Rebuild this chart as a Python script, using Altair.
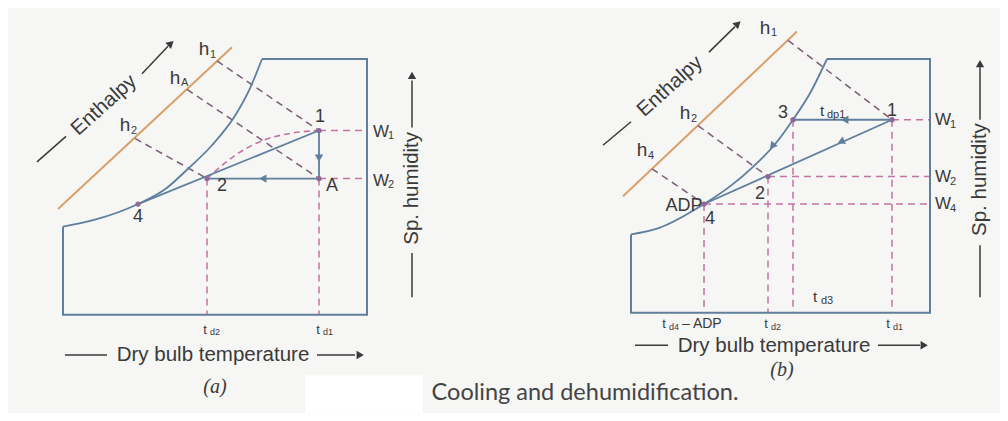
import altair as alt
import pandas as pd

# ---------------- coordinate frame (diagram units = page pixels) -------------
X0, X1, Y0, Y1 = 8, 1000, 8, 413

BLUE = "#5f7f9c"
PINK = "#c274a3"
DARK = "#7a5c74"
ORANGE = "#d9a06a"
INK = "#3a3a3a"

# ---------------- panel (a) ----------------
box_a_x = [63, 63, 367, 367, 262]
box_a_y = [231, 321, 321, 60, 60]
sat_a_x = [63, 95, 138, 165, 188, 212, 235, 250, 262]
sat_a_y = [231, 224, 208, 193, 172, 148, 118, 90, 60]
arc_a_x = [207, 225, 245, 263, 290, 319]
arc_a_y = [182, 166, 152, 143, 136, 133]
state_a_name = ["1", "A", "2", "4"]
state_a_x = [319, 319, 207, 138]
state_a_y = [133, 182, 182, 208]

# ---------------- panel (b) ----------------
box_b_x = [631, 631, 930, 930, 827]
box_b_y = [239, 319, 319, 60, 60]
sat_b_x = [631, 660, 704, 730, 753, 775, 793, 810, 827]
sat_b_y = [239, 232, 208, 190, 170, 147, 122, 95, 60]
state_b_name = ["1", "3", "2", "4"]
state_b_x = [892, 793, 768, 704]
state_b_y = [122, 122, 180, 208]

# straight segments: x1, y1, x2, y2
solid_x1 = [319, 319, 319, 892, 892]
solid_y1 = [133, 182, 133, 122, 122]
solid_x2 = [319, 207, 138, 793, 704]
solid_y2 = [182, 182, 208, 122, 208]

orange_x1 = [58, 623]
orange_y1 = [213, 200]
orange_x2 = [232, 797]
orange_y2 = [48, 32]

hdash_x1 = [217, 187, 135, 788, 698, 652]
hdash_y1 = [62, 91, 141, 41, 128, 172]
hdash_x2 = [319, 319, 207, 892, 768, 704]
hdash_y2 = [133, 182, 182, 122, 180, 208]

pdash_x1 = [319, 319, 207, 319, 892, 768, 704, 704, 768, 793, 892]
pdash_y1 = [133, 182, 182, 182, 122, 180, 208, 208, 180, 122, 122]
pdash_x2 = [367, 367, 207, 319, 930, 930, 930, 704, 768, 793, 892]
pdash_y2 = [133, 182, 321, 321, 122, 180, 208, 319, 319, 319, 319]

# axis-title arrow shafts
shaft_x1 = [65, 317, 412, 412, 37, 142, 635, 878, 980, 980, 603, 709]
shaft_y1 = [362, 362, 303, 130, 165, 75, 352, 352, 303, 122, 148, 53]
shaft_x2 = [107, 355, 412, 412, 66, 168, 668, 920, 980, 980, 631, 735]
shaft_y2 = [362, 362, 258, 82, 139, 47, 352, 352, 250, 68, 124, 27]

# arrow heads
flow_head_x = [319, 264, 846, 842, 773]
flow_head_y = [160, 182, 122, 144, 148]
flow_head_angle = [180, 270, 270, 245, 220]
axis_head_x = [359, 412, 170, 923, 980, 737]
axis_head_y = [362, 78, 45, 352, 66, 25]
axis_head_angle = [90, 0, 48, 90, 0, 47]

# ---------------- labels ----------------
lab_text = ["1", "2", "A", "4", "h", "h", "h", "W", "W", "t", "t",
            "1", "3", "2", "ADP", "4", "t", "t", "h", "h", "h", "W", "W", "W",
            "t", "t", "t"]
lab_x = [320, 222, 332, 138, 204, 175, 125, 381, 381, 205, 318,
         892, 783, 760, 684, 710, 822, 815, 765, 685, 642, 943, 943, 943,
         664, 766, 888]
lab_y = [119, 190, 190, 221, 50, 79, 127, 134, 184, 336, 336,
         113, 115, 198, 210, 223, 113, 303, 28, 115, 153, 122, 180, 208,
         330, 330, 330]
lab_size = [18, 18, 18, 18, 19, 19, 19, 17, 17, 13, 13,
            18, 18, 18, 18, 18, 15, 15, 19, 19, 19, 17, 17, 17,
            13, 13, 13]

sub_text = ["1", "A", "2", "1", "2", "d2", "d1",
            "dp1", "d3", "1", "2", "4", "1", "2", "4", "d4", "– ADP", "d2", "d1"]
sub_x = [210, 181, 131, 388, 388, 210, 323,
         827, 821, 771, 691, 648, 950, 950, 950, 669, 682, 771, 893]
sub_y = [56, 85, 133, 139, 189, 339, 339,
         117, 307, 34, 121, 159, 127, 185, 213, 333, 330, 333, 333]
sub_size = [11, 11, 11, 11, 11, 9, 9,
            11, 11, 11, 11, 11, 11, 11, 11, 9, 14, 9, 9]

title_text = ["Dry bulb temperature", "Enthalpy", "Sp. humidity",
              "Dry bulb temperature", "Enthalpy", "Sp. humidity"]
title_x = [213, 104, 412, 774, 670, 980]
title_y = [362, 107, 192, 353, 88, 183]
title_angle = [0, 318, 270, 0, 318, 270]

panel_text = ["(a)", "(b)"]
panel_x = [215, 782]
panel_y = [395, 377]

caption_text = ["Cooling and dehumidification."]
caption_x = [585]
caption_y = [401]

patch_x1, patch_x2, patch_y1, patch_y2 = [305], [423], [383], [421]

# ---------------- helpers ----------------
xs = alt.Scale(domain=[X0, X1], zero=False, nice=False)
ys = alt.Scale(domain=[Y0, Y1], zero=False, nice=False, reverse=True)


def X(f):
    return alt.X(f, type="quantitative", scale=xs, axis=None)


def Y(f):
    return alt.Y(f, type="quantitative", scale=ys, axis=None)


def poly(groups):
    rows = []
    for g, (xx, yy) in enumerate(groups):
        for i, (a, b) in enumerate(zip(xx, yy)):
            rows.append({"x": a, "y": b, "g": g, "o": i})
    return pd.DataFrame(rows)


def segs(x1, y1, x2, y2):
    return pd.DataFrame({"x": x1, "y": y1, "x2": x2, "y2": y2})


def rule_layer(df, color, width, dash=None):
    kw = dict(color=color, strokeWidth=width)
    if dash:
        kw["strokeDash"] = dash
    return alt.Chart(df).mark_rule(**kw).encode(
        x=X("x"), y=Y("y"), x2="x2:Q", y2="y2:Q")


patch = alt.Chart(pd.DataFrame({"x": patch_x1, "x2": patch_x2, "y": patch_y1, "y2": patch_y2})).mark_rect(
    color="#ffffff").encode(x=X("x"), x2="x2:Q", y=Y("y"), y2="y2:Q")

boxes = alt.Chart(poly([(box_a_x, box_a_y), (box_b_x, box_b_y)])).mark_line(
    color=BLUE, strokeWidth=2).encode(x=X("x"), y=Y("y"), detail="g:N", order="o:Q")

sat = alt.Chart(poly([(sat_a_x, sat_a_y), (sat_b_x, sat_b_y)])).mark_line(
    color=BLUE, strokeWidth=1.8, interpolate="monotone").encode(
    x=X("x"), y=Y("y"), detail="g:N", order="o:Q")

arc = alt.Chart(poly([(arc_a_x, arc_a_y)])).mark_line(
    color=PINK, strokeWidth=1.6, strokeDash=[6, 4], interpolate="monotone").encode(
    x=X("x"), y=Y("y"), detail="g:N", order="o:Q")

orange = rule_layer(segs(orange_x1, orange_y1, orange_x2, orange_y2), ORANGE, 2)
hdash = rule_layer(segs(hdash_x1, hdash_y1, hdash_x2, hdash_y2), DARK, 1.5, [7, 5])
pdash = rule_layer(segs(pdash_x1, pdash_y1, pdash_x2, pdash_y2), PINK, 1.5, [7, 5])
solid = rule_layer(segs(solid_x1, solid_y1, solid_x2, solid_y2), BLUE, 1.8)
shafts = rule_layer(segs(shaft_x1, shaft_y1, shaft_x2, shaft_y2), INK, 1.5)

flow_heads = alt.Chart(pd.DataFrame({"x": flow_head_x, "y": flow_head_y, "a": flow_head_angle})).mark_point(
    shape="triangle", filled=True, color=BLUE, opacity=1, size=70).encode(
    x=X("x"), y=Y("y"), angle=alt.Angle("a:Q", scale=None))

axis_heads = alt.Chart(pd.DataFrame({"x": axis_head_x, "y": axis_head_y, "a": axis_head_angle})).mark_point(
    shape="triangle", filled=True, color=INK, opacity=1, size=70).encode(
    x=X("x"), y=Y("y"), angle=alt.Angle("a:Q", scale=None))

dots = alt.Chart(pd.DataFrame({"x": state_a_x + state_b_x, "y": state_a_y + state_b_y,
                               "n": state_a_name + state_b_name})).mark_point(
    shape="circle", filled=True, color="#8d6a9a", opacity=1, size=28).encode(x=X("x"), y=Y("y"))

labels = alt.Chart(pd.DataFrame({"x": lab_x, "y": lab_y, "t": lab_text, "s": lab_size})).mark_text(
    font="Liberation Sans", color=INK, align="center", baseline="middle").encode(
    x=X("x"), y=Y("y"), text="t:N", size=alt.Size("s:Q", scale=None))

subs = alt.Chart(pd.DataFrame({"x": sub_x, "y": sub_y, "t": sub_text, "s": sub_size})).mark_text(
    font="Liberation Sans", color=INK, align="left", baseline="middle").encode(
    x=X("x"), y=Y("y"), text="t:N", size=alt.Size("s:Q", scale=None))

titles = alt.Chart(pd.DataFrame({"x": title_x, "y": title_y, "t": title_text, "a": title_angle})).mark_text(
    font="Liberation Sans", color=INK, fontSize=20.5, align="center", baseline="middle").encode(
    x=X("x"), y=Y("y"), text="t:N", angle=alt.Angle("a:Q", scale=None))

panels = alt.Chart(pd.DataFrame({"x": panel_x, "y": panel_y, "t": panel_text})).mark_text(
    font="Liberation Serif", fontStyle="italic", color=INK, fontSize=20, align="center",
    baseline="middle").encode(x=X("x"), y=Y("y"), text="t:N")

caption = alt.Chart(pd.DataFrame({"x": caption_x, "y": caption_y, "t": caption_text})).mark_text(
    font="Lato", color="#444444", fontSize=23.5, align="center", baseline="middle").encode(
    x=X("x"), y=Y("y"), text="t:N")

chart = alt.layer(
    patch, orange, hdash, pdash, arc, boxes, sat, solid, flow_heads, dots,
    shafts, axis_heads, labels, subs, titles, panels, caption
).properties(
    width=992, height=405, padding=0, background="#f6f6f5",
    autosize=alt.AutoSizeParams(type="fit", contains="padding"),
).configure_view(strokeWidth=0)

chart.save("out.html", embed_options={"renderer": "svg", "actions": False})
